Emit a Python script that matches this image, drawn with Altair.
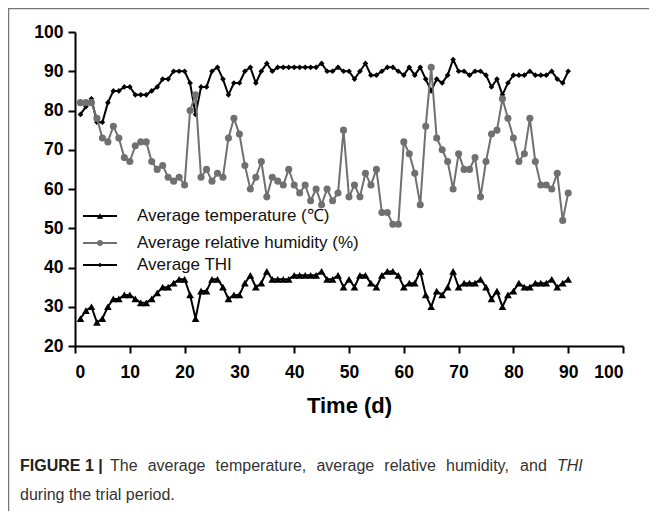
import altair as alt
import pandas as pd

days = list(range(1, 91))

temperature = [27, 29, 30, 26, 27, 30, 32, 32, 33, 33,
               32, 31, 31, 32, 33.5, 35, 35, 36, 37, 37,
               33, 27, 34, 34, 37, 37, 35, 32, 33, 33,
               36, 38, 35, 36, 39, 37, 37, 37, 37, 38,
               38, 38, 38, 38, 39, 37, 37, 38, 35, 37,
               35, 38, 38, 36, 35, 38, 39, 39, 38, 35,
               36, 36, 39, 33, 30, 34, 33, 35, 39, 35,
               36, 36, 36, 37, 35, 32, 34, 30, 33, 34,
               36, 35, 35, 36, 36, 36, 37, 35, 36, 37]

humidity = [82, 82, 82, 78, 73, 72, 76, 73, 68, 67,
            71, 72, 72, 67, 65, 66, 63, 62, 63, 61,
            80, 84, 63, 65, 62, 64, 63, 73, 78, 74,
            66, 60, 63, 67, 58, 63, 62, 61, 65, 61,
            59, 61, 57, 60, 56, 60, 57, 59, 75, 58,
            61, 58, 64, 61, 65, 54, 54, 51, 51, 72,
            69, 64, 56, 76, 91, 73, 70, 67, 60, 69,
            65, 65, 68, 58, 67, 74, 75, 83, 78, 73,
            67, 69, 78, 67, 61, 61, 60, 64, 52, 59]

thi = [79, 81, 83, 77, 77, 82, 85, 85, 86, 86,
       84, 84, 84, 85, 86, 88, 88, 90, 90, 90,
       87, 79, 86, 86, 90, 91, 88, 84, 87, 87,
       90, 91, 87, 90, 92, 90, 91, 91, 91, 91,
       91, 91, 91, 91, 92, 90, 90, 91, 90, 90,
       88, 90, 92, 89, 89, 90, 91, 91, 90, 89,
       91, 89, 91, 88, 85, 88, 87, 89, 93, 90,
       90, 89, 90, 90, 89, 86, 88, 84, 87, 89,
       89, 89, 90, 89, 89, 89, 90, 88, 87, 90]

series_names = ["Average temperature (\u2103)", "Average relative humidity (%)", "Average THI"]
series_colors = ["#000000", "#707070", "#000000"]
series_shapes = ["triangle-up", "circle", "diamond"]
series_sizes = [60, 50, 32]

x_ticks = [0, 10, 20, 30, 40, 50, 60, 70, 80, 90, 100]
y_ticks = [20, 30, 40, 50, 60, 70, 80, 90, 100]

caption_bold = "FIGURE 1 |"
caption_words = ["The", "average", "temperature,", "average", "relative", "humidity,", "and"]
caption_word_x = [35, 72.7, 140.6, 241.4, 309.3, 371, 445.1]
caption_italic = "THI"
caption_line2 = "during the trial period."

FONT = "Liberation Sans"

x_scale = alt.Scale(domain=[0, 100], nice=False)
y_scale = alt.Scale(domain=[20, 100], nice=False, zero=False)

x_axis = alt.Axis(values=x_ticks, title="Time (d)", titleFontSize=22, titleFontWeight="bold",
                  titlePadding=15, titleFont=FONT, titleColor="#000", grid=False,
                  labelPadding=10)
y_axis = alt.Axis(values=y_ticks, title=None, grid=False, labelPadding=5)


def series_layers(values, i):
    df = pd.DataFrame({"day": days, "value": values})
    base = alt.Chart(df).encode(
        x=alt.X("day:Q", scale=x_scale, axis=x_axis),
        y=alt.Y("value:Q", scale=y_scale, axis=y_axis),
    )
    line = base.mark_line(color=series_colors[i], strokeWidth=2)
    pts = base.mark_point(shape=series_shapes[i], size=series_sizes[i], filled=True,
                          color=series_colors[i], opacity=1)
    return [line, pts]


one = pd.DataFrame({"a": [0]})


def legend_row(i, ypos):
    rule = alt.Chart(one).mark_rule(color=series_colors[i], strokeWidth=2).encode(
        x=alt.value(8), x2=alt.value(42), y=alt.value(ypos))
    pt = alt.Chart(one).mark_point(shape=series_shapes[i], size=series_sizes[i] * 0.7, filled=True,
                                   color=series_colors[i], opacity=1).encode(
        x=alt.value(25), y=alt.value(ypos))
    txt = alt.Chart(pd.DataFrame({"t": [series_names[i]]})).mark_text(
        align="left", baseline="middle", fontSize=17, font=FONT, color="#111").encode(
        x=alt.value(62), y=alt.value(ypos), text="t:N")
    return [rule, pt, txt]


layers = []
layers += series_layers(thi, 2)
layers += series_layers(temperature, 0)
layers += series_layers(humidity, 1)

layers += legend_row(0, 184)
layers += legend_row(1, 211)
layers += legend_row(2, 233)


def text_piece(s, x, y, weight="normal", style="normal", color="#333"):
    return alt.Chart(pd.DataFrame({"t": [s]})).mark_text(
        align="left", baseline="middle", fontSize=16, font=FONT, fontWeight=weight,
        fontStyle=style, color=color).encode(x=alt.value(x), y=alt.value(y), text="t:N")


layers.append(text_piece(caption_bold, -55, 434, weight="bold", color="#222"))
for w, xw in zip(caption_words, caption_word_x):
    layers.append(text_piece(w, xw, 434))
layers.append(text_piece(caption_italic, 481.9, 434, style="italic"))
layers.append(text_piece(caption_line2, -55, 463))

frame_top = alt.Chart(one).mark_rule(color="#777", strokeWidth=1.5).encode(
    x=alt.value(-67), x2=alt.value(600), y=alt.value(-23.5))
frame_left = alt.Chart(one).mark_rule(color="#777", strokeWidth=1.5).encode(
    x=alt.value(-66.5), y=alt.value(-24), y2=alt.value(500))
layers += [frame_top, frame_left]

chart = alt.layer(*layers).properties(
    width=548, height=314,
    padding={"left": 67, "top": 24, "right": 26, "bottom": 165},
    autosize=alt.AutoSizeParams(type="none"),
    background="white",
).configure_view(stroke=None).configure_axis(
    domainColor="#000", domainWidth=2, tickColor="#000", tickWidth=2, tickSize=7,
    labelFont=FONT, labelFontSize=17.5, labelFontWeight="bold", labelColor="#000",
    grid=False,
)

chart.save("out.html", embed_options={"renderer": "svg", "actions": False})
